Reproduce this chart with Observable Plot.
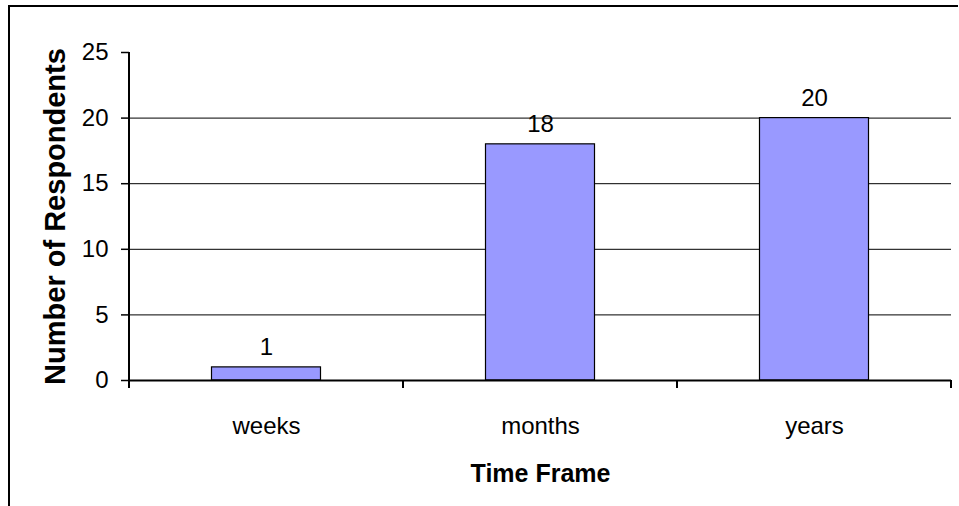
<!DOCTYPE html>
<html>
<head>
<meta charset="utf-8">
<script src="https://cdn.jsdelivr.net/npm/d3@7"></script>
<script src="https://cdn.jsdelivr.net/npm/@observablehq/plot@0.6"></script>
<style>
  body { margin: 0; background: #fff; }
  #chart { position: relative; width: 959px; height: 506px; font-family: "Liberation Sans", Arial, sans-serif; }
  #chart svg { display: block; }
  /* outer chart-area border (top and left edges) */
  #chart .border { position: absolute; left: 8px; top: 5px; right: 1px; bottom: 0; border-top: 2px solid #000; border-left: 2px solid #000; pointer-events: none; }
</style>
</head>
<body>
<div id="chart"><div class="border"></div></div>
<script>
const timeFrames = ["weeks", "months", "years"];
const respondents = [1, 18, 20];
const yTicks = [0, 5, 10, 15, 20, 25];
const gridValues = [5, 10, 15, 20];
const xTitle = "Time Frame";
const yTitle = "Number of Respondents";

const data = timeFrames.map((frame, i) => ({frame, count: respondents[i]}));

const plot = Plot.plot({
  width: 959,
  height: 506,
  marginLeft: 129,
  marginRight: 8,
  marginTop: 52,
  marginBottom: 126,
  style: {fontFamily: '"Liberation Sans", Arial, sans-serif', fontSize: "24px", color: "#000", background: "transparent", overflow: "visible"},
  x: {domain: timeFrames, padding: 0, label: null},
  y: {domain: [0, 25], label: null},
  marks: [
    Plot.gridY(gridValues, {stroke: "#000", strokeOpacity: 1, strokeWidth: 1}),
    Plot.barY(data, {x: "frame", y: "count", fill: "#9999FF", stroke: "#000", strokeWidth: 1.2, insetLeft: 82.5, insetRight: 82.5}),
    Plot.ruleY([0], {stroke: "#000", strokeWidth: 2}),
    Plot.axisY(yTicks, {tickSize: 8, tickPadding: 13, fontSize: 24, stroke: "#000", strokeWidth: 1.5, label: null}),
    Plot.axisX({tickSize: 0, tickPadding: 36, fontSize: 24, label: null}),
    Plot.text(data, {x: "frame", y: "count", text: d => String(d.count), dy: -20, fontSize: 24, fill: "#000"}),
    Plot.text([xTitle], {frameAnchor: "bottom", dy: 101, fontSize: 25, fontWeight: "bold", fill: "#000"}),
    Plot.text([yTitle], {frameAnchor: "left", textAnchor: "middle", dx: -74, rotate: -90, fontSize: 29, fontWeight: "bold", fill: "#000"})
  ]
});

// y-axis line and category boundary ticks, placed from the plot's own scales
const xs = plot.scale("x");
const ys = plot.scale("y");
const svg = d3.select(plot);
const y0 = ys.apply(0);
const yTop = ys.apply(25);
const edges = timeFrames.map(f => xs.apply(f)).concat([xs.apply(timeFrames[timeFrames.length - 1]) + xs.bandwidth]);
const g = svg.append("g").attr("stroke", "#000");
g.append("line").attr("x1", edges[0]).attr("x2", edges[0]).attr("y1", yTop).attr("y2", y0).attr("stroke-width", 2);
g.selectAll("line.edge").data(edges).join("line").attr("class", "edge")
  .attr("x1", d => d).attr("x2", d => d).attr("y1", y0).attr("y2", y0 + 8).attr("stroke-width", 2);

document.getElementById("chart").appendChild(plot);
</script>
</body>
</html>
